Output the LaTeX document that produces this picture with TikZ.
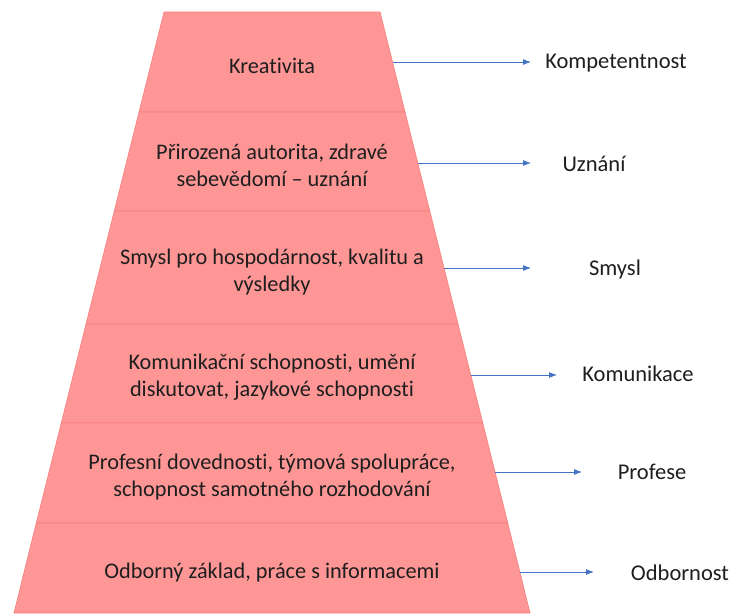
\documentclass[tikz,border=0pt]{standalone}
\usepackage{fontspec}
\setmainfont{Carlito}[Ligatures=NoCommon]
\usetikzlibrary{arrows.meta}
\definecolor{pk}{RGB}{255,150,150}
\definecolor{pkline}{RGB}{245,125,125}
\definecolor{arrblue}{RGB}{68,114,196}
\definecolor{txt}{RGB}{30,30,30}
\begin{document}
\begin{tikzpicture}[x=1pt,y=-1pt,
  level/.style={fill=pk,draw=pkline,line width=0.6pt},
  lvltext/.style={align=center,text=txt,font=\fontsize{22.3}{27}\selectfont,inner sep=0pt},
  side/.style={text=txt,font=\fontsize{22.5}{27}\selectfont,inner sep=0pt},
  arr/.style={draw=arrblue,line width=0.8pt,-{Latex[length=8pt,width=6pt]}}]
\useasboundingbox (0,0) rectangle (736,613);
% levels
\path[level] (164,12) -- (380,12) -- (405,112) -- (139,112) -- cycle;
\path[level] (139,112) -- (405,112) -- (429.75,211) -- (114.25,211) -- cycle;
\path[level] (114.25,211) -- (429.75,211) -- (458,324) -- (86,324) -- cycle;
\path[level] (86,324) -- (458,324) -- (482.75,423) -- (61.25,423) -- cycle;
\path[level] (61.25,423) -- (482.75,423) -- (507.75,523) -- (36.25,523) -- cycle;
\path[level] (36.25,523) -- (507.75,523) -- (530,613) -- (14,613) -- cycle;
% level texts
\node[lvltext] (t1) at (272,66) {Kreativita};
\node[lvltext] (t2) at (272,165) {Přirozená autorita, zdravé\\sebevědomí – uznání};
\node[lvltext] (t3) at (272,272) {Smysl pro hospodárnost, kvalitu a\\výsledky};
\node[lvltext] (t4) at (272,377) {Komunikační schopnosti, umění\\diskutovat, jazykové schopnosti};
\node[lvltext] (t5) at (272,477) {Profesní dovednosti, týmová spolupráce,\\schopnost samotného rozhodování};
\node[lvltext] (t6) at (272,573) {Odborný základ, práce s informacemi};
% side labels
\node[side] (l1) at (616,63) {Kompetentnost};
\node[side] (l2) at (594,164) {Uznání};
\node[side] (l3) at (615,269) {Smysl};
\node[side] (l4) at (638,374) {Komunikace};
\node[side] (l5) at (652,472) {Profese};
\node[side] (l6) at (680,573) {Odbornost};
% arrow endpoints
\coordinate (s1) at (392.5,62);  \coordinate (e1) at (531,62);
\coordinate (s2) at (417.7,163); \coordinate (e2) at (531,163);
\coordinate (s3) at (444,268);   \coordinate (e3) at (531,268);
\coordinate (s4) at (470.7,375); \coordinate (e4) at (557,375);
\coordinate (s5) at (495,472);   \coordinate (e5) at (582,472);
\coordinate (s6) at (520,572);   \coordinate (e6) at (594,572);
\draw[arr] (s1) -- (e1);
\draw[arr] (s2) -- (e2);
\draw[arr] (s3) -- (e3);
\draw[arr] (s4) -- (e4);
\draw[arr] (s5) -- (e5);
\draw[arr] (s6) -- (e6);
\end{tikzpicture}
\end{document}
